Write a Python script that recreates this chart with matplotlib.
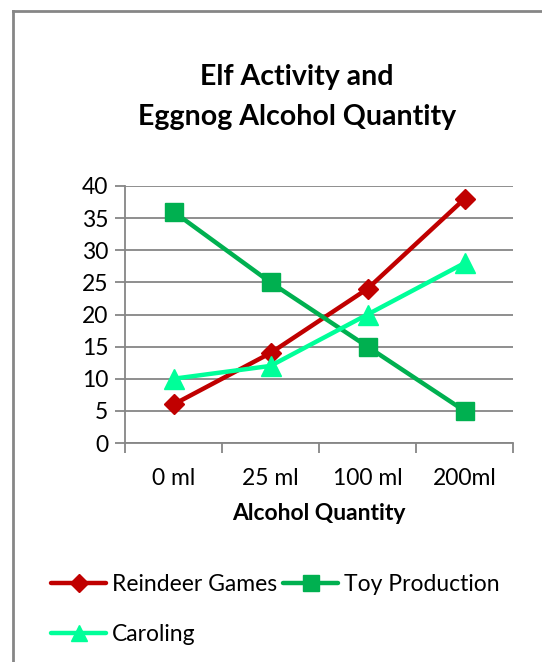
import matplotlib
matplotlib.use("Agg")
import matplotlib.pyplot as plt
from matplotlib.lines import Line2D
import numpy as np

plt.rcParams['font.family'] = ['Lato', 'DejaVu Sans']

categories = ["0 ml", "25 ml", "100 ml", "200ml"]
reindeer_games = [6, 14, 24, 38]
toy_production = [36, 25, 15, 5]
caroling = [10, 12, 20, 28]

series = [
    ("Reindeer Games", reindeer_games, "#C00000", "D", 10.5),
    ("Toy Production", toy_production, "#00B050", "s", 13.5),
    ("Caroling", caroling, "#00FF99", "^", 14),
]

fig = plt.figure(figsize=(5.42, 6.62), dpi=100)
ax = fig.add_axes([125/542, 1-443/662, (513-125)/542, (443-186)/662])

x = np.arange(len(categories))
for name, vals, col, mk, ms in series:
    ax.plot(x, vals, color=col, lw=3.2, marker=mk, markersize=ms,
            markerfacecolor=col, markeredgecolor=col, label=name,
            solid_capstyle='round')

ax.set_xlim(-0.5, len(categories) - 0.5)
ax.set_ylim(0, 40)
ax.set_yticks(np.arange(0, 41, 5))
ax.set_xticks(x)
ax.set_xticklabels(categories)
ax.set_xticks(np.arange(-0.5, len(categories), 1), minor=True)
ax.tick_params(axis='x', which='major', length=0, pad=18, labelsize=16.5)
ax.tick_params(axis='x', which='minor', length=7, width=1.3, color='#868686', direction='out')
ax.tick_params(axis='y', length=7, width=1.3, color='#868686', labelsize=16.5, pad=5)
ax.grid(axis='y', color='#868686', lw=1.3)
ax.set_axisbelow(True)
for s in ['top', 'right']:
    ax.spines[s].set_visible(False)
for s in ['left', 'bottom']:
    ax.spines[s].set_color('#868686')
    ax.spines[s].set_linewidth(1.3)

ax.set_xlabel("Alcohol Quantity", fontsize=16.5, fontweight='bold', labelpad=10)

fig.text(297/542, 1-77/662, "Elf Activity and", ha='center', va='center',
         fontsize=20.5, fontweight='bold')
fig.text(297/542, 1-117/662, "Eggnog Alcohol Quantity", ha='center', va='center',
         fontsize=20.5, fontweight='bold')

# legend is filled row by row in the reference, matplotlib fills by column
handles, labels = ax.get_legend_handles_labels()
order = [0, 2, 1]
fig.legend([handles[i] for i in order], [labels[i] for i in order], ncol=2,
           loc='upper left', bbox_to_anchor=(40/542, 1-563/662), frameon=False,
           fontsize=16.5, handlelength=2.4, handletextpad=0.25,
           columnspacing=0.25, labelspacing=1.25, borderpad=0, markerscale=0.85)

# chart border (only top and left edges fall inside the picture)
fig.add_artist(Line2D([13/542, 13/542], [0, 1-11/662], color='#868686', lw=2,
                      transform=fig.transFigure))
fig.add_artist(Line2D([13/542, 1], [1-11/662, 1-11/662], color='#868686', lw=2,
                      transform=fig.transFigure))

fig.savefig("out.png", dpi=100)
